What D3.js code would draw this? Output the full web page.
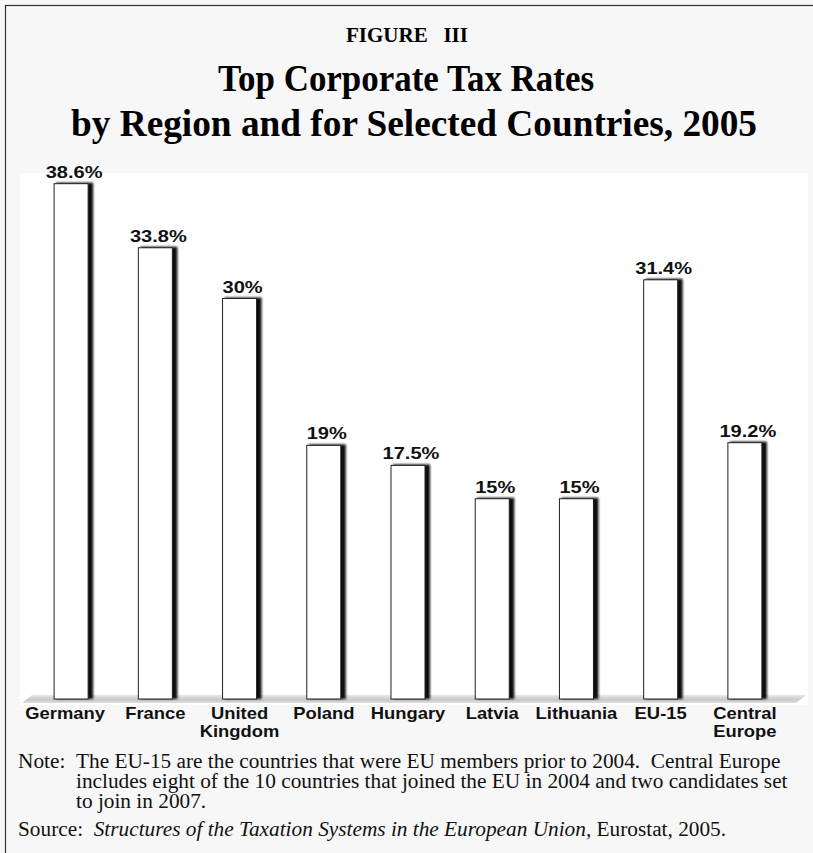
<!DOCTYPE html>
<html>
<head>
<meta charset="utf-8">
<script src="https://cdn.jsdelivr.net/npm/d3@7"></script>
<style>
  body { margin: 0; background: #f7f7f7; }
  svg { display: block; }
</style>
</head>
<body>
<div id="chart"></div>
<script>
// ---------------- DATA ----------------
const categories = ["Germany", "France", "United Kingdom", "Poland", "Hungary", "Latvia", "Lithuania", "EU-15", "Central Europe"];
const rates = [38.6, 33.8, 30, 19, 17.5, 15, 15, 31.4, 19.2];
const rateLabels = ["38.6%", "33.8%", "30%", "19%", "17.5%", "15%", "15%", "31.4%", "19.2%"];

const noteLines = [
  "The EU-15 are the countries that were EU members prior to 2004.  Central Europe",
  "includes eight of the 10 countries that joined the EU in 2004 and two candidates set",
  "to join in 2007."
];

const width = 813;
const height = 853;
const serif = "'Liberation Serif', 'Times New Roman', serif";
const sans = "'Liberation Sans', Arial, sans-serif";

const svg = d3.select("#chart").append("svg")
  .attr("width", width)
  .attr("height", height);

const defs = svg.append("defs");
defs.append("filter").attr("id", "blur")
  .attr("x", "-50%").attr("y", "-10%").attr("width", "200%").attr("height", "120%")
  .append("feGaussianBlur").attr("stdDeviation", 1.2);

const floorGrad = defs.append("linearGradient").attr("id", "floor")
  .attr("x1", 0).attr("y1", 0).attr("x2", 0).attr("y2", 1);
floorGrad.append("stop").attr("offset", "0%").attr("stop-color", "#e8e8e8");
floorGrad.append("stop").attr("offset", "60%").attr("stop-color", "#c8c8c8");
floorGrad.append("stop").attr("offset", "100%").attr("stop-color", "#dedede");

// frame
svg.append("rect")
  .attr("x", 5.5).attr("y", 5.5)
  .attr("width", width + 10).attr("height", height + 10)
  .attr("fill", "#f7f7f7").attr("stroke", "#333").attr("stroke-width", 1.2);

// ---------------- TITLES ----------------
svg.append("text")
  .attr("x", 407).attr("y", 42)
  .attr("text-anchor", "middle")
  .style("font-family", serif)
  .style("font-weight", "bold")
  .style("font-size", "21px")
  .attr("xml:space", "preserve")
  .text("FIGURE   III");

svg.append("text")
  .attr("x", 406).attr("y", 91)
  .attr("text-anchor", "middle")
  .attr("textLength", 376).attr("lengthAdjust", "spacingAndGlyphs")
  .style("font-family", serif)
  .style("font-weight", "bold")
  .style("font-size", "37px")
  .text("Top Corporate Tax Rates");

svg.append("text")
  .attr("x", 414).attr("y", 136)
  .attr("text-anchor", "middle")
  .attr("textLength", 686).attr("lengthAdjust", "spacingAndGlyphs")
  .style("font-family", serif)
  .style("font-weight", "bold")
  .style("font-size", "37px")
  .text("by Region and for Selected Countries, 2005");

// ---------------- PLOT AREA ----------------
svg.append("rect")
  .attr("x", 20).attr("y", 173)
  .attr("width", 788).attr("height", 532)
  .attr("fill", "#ffffff");

const x = d3.scaleBand()
  .domain(categories)
  .range([29, 787])
  .paddingInner(0.596)
  .paddingOuter(0.298);

const y = d3.scaleLinear()
  .domain([0, 40])
  .range([699, 165]);

// floor
svg.append("polygon")
  .attr("points", [[22, 703], [32, 695], [806, 695], [796, 703]].map(p => p.join(",")).join(" "))
  .attr("fill", "url(#floor)");

const bars = svg.append("g").selectAll("g")
  .data(categories)
  .join("g");

// shadow
bars.append("rect")
  .attr("x", d => x(d) + 2)
  .attr("y", (d, i) => y(rates[i]) - 1)
  .attr("width", x.bandwidth() + 3)
  .attr("height", (d, i) => y(0) - y(rates[i]) + 1)
  .attr("fill", "#111")
  .attr("filter", "url(#blur)");

bars.append("rect")
  .attr("x", d => x(d))
  .attr("y", (d, i) => y(rates[i]))
  .attr("width", x.bandwidth())
  .attr("height", (d, i) => y(0) - y(rates[i]))
  .attr("fill", "#fff")
  .attr("stroke", "#222")
  .attr("stroke-width", 1);

// value labels (the source type is a little wide, so stretch it)
bars.append("text")
  .attr("transform", (d, i) => `translate(${x(d) + x.bandwidth() / 2 + 3},${y(rates[i]) - 6}) scale(1.18,1)`)
  .attr("text-anchor", "middle")
  .style("font-family", sans)
  .style("font-weight", "bold")
  .style("font-size", "17px")
  .attr("fill", "#111")
  .text((d, i) => rateLabels[i]);

// category labels
const xLabels = svg.append("g").selectAll("text")
  .data(categories)
  .join("text")
  .attr("transform", d => `translate(${x(d) + x.bandwidth() / 2 - (d === "Germany" ? 6 : 0)},719) scale(1.15,1)`)
  .attr("text-anchor", "middle")
  .style("font-family", sans)
  .style("font-weight", "bold")
  .style("font-size", "16px")
  .attr("fill", "#111");

xLabels.each(function (d) {
  const words = d === "EU-15" ? [d] : d.split(" ");
  const t = d3.select(this);
  words.forEach((w, k) => {
    t.append("tspan")
      .attr("x", 0)
      .attr("dy", k === 0 ? 0 : 18)
      .text(w);
  });
});

// ---------------- NOTES ----------------
// one text block so the tight leading of the original is kept
const note = svg.append("text")
  .attr("y", 768)
  .style("font-family", serif).style("font-size", "21.3px").attr("fill", "#111")
  .attr("xml:space", "preserve");

note.append("tspan").attr("x", 18).text("Note:");
noteLines.forEach((line, i) => {
  note.append("tspan")
    .attr("x", 76)
    .attr("y", 768 + i * 20)
    .text(line);
});

const src = svg.append("text")
  .attr("x", 18).attr("y", 836)
  .style("font-family", serif).style("font-size", "21.3px").attr("fill", "#111")
  .attr("xml:space", "preserve");
src.append("tspan").text("Source:  ");
src.append("tspan").style("font-style", "italic").text("Structures of the Taxation Systems in the European Union,");
src.append("tspan").text(" Eurostat, 2005.");
</script>
</body>
</html>
